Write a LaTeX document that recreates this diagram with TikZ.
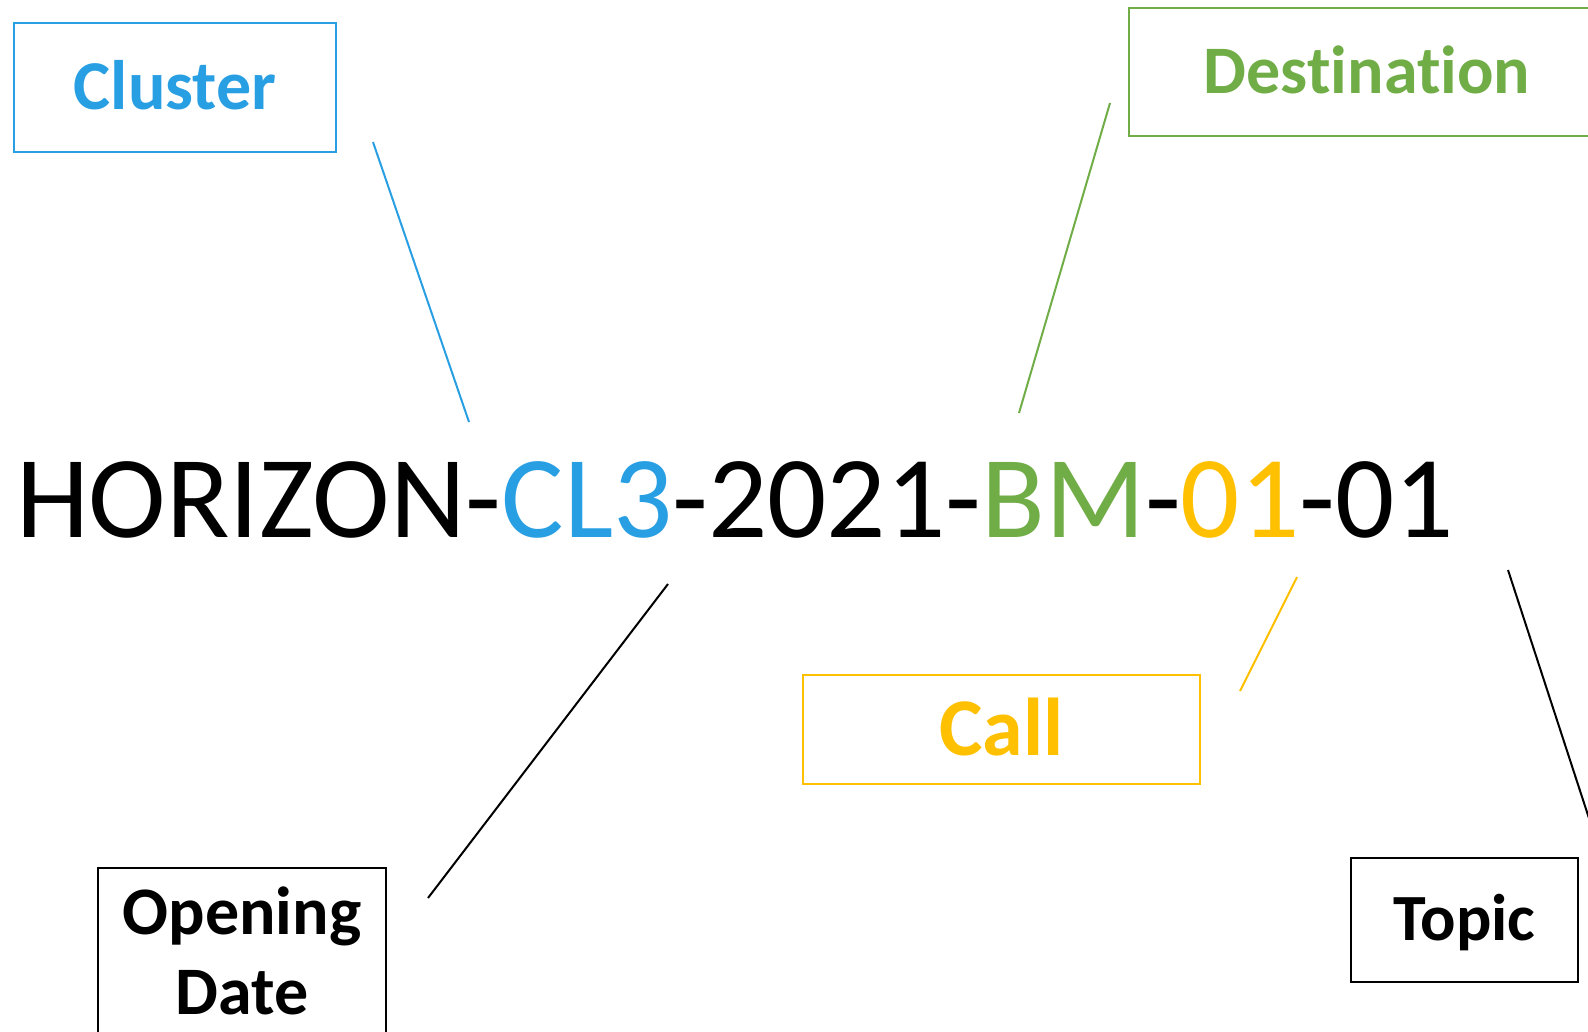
\documentclass[tikz,border=0pt]{standalone}
\usepackage{fontspec}
\setmainfont{Carlito}[Ligatures={NoCommon,NoRare}]
\usepackage{tikz}

\definecolor{clblue}{RGB}{41,159,227}
\definecolor{dgreen}{RGB}{112,173,71}
\definecolor{cgold}{RGB}{255,192,0}

\begin{document}
\begin{tikzpicture}[x=1pt, y=-1pt,
  part/.style={draw, line width=2.2pt, inner sep=0pt, text height=#1, text depth=0pt},
  link/.style={line width=2pt}]

\path[use as bounding box, clip] (0,0) rectangle (1588,1031);

\node (code) at (735,537) [anchor=base, inner sep=0pt, font=\fontsize{117}{140}\selectfont]
  {HORIZON-\textcolor{clblue}{CL3}-2021-\textcolor{dgreen}{BM}-\textcolor{cgold}{01}-01};

\node (cluster) at (175,87.5) [part=44pt, clblue, minimum width=322pt, minimum height=129pt,
  font=\fontsize{70}{84}\selectfont\bfseries] {Cluster};
\node (dest) at (1367,72) [part=43pt, dgreen, minimum width=476pt, minimum height=128pt,
  font=\fontsize{68}{82}\selectfont\bfseries] {Destination};
\node (call) at (1001.5,729.5) [part=52pt, cgold, minimum width=397pt, minimum height=109pt,
  font=\fontsize{82}{98}\selectfont\bfseries] {Call};
\node (opening) at (242,952.5) [part=123pt, align=center, minimum width=288pt, minimum height=169pt,
  font=\fontsize{68}{80}\selectfont\bfseries] {Opening\\ Date};
\node (topic) at (1464.5,920) [part=41pt, minimum width=227pt, minimum height=124pt,
  font=\fontsize{66}{78}\selectfont\bfseries] {Topic};

% line ends
\coordinate (cl-a) at (373,142);
\coordinate (cl-b) at (469,422);
\coordinate (de-a) at (1110,103);
\coordinate (de-b) at (1019,413);
\coordinate (op-a) at (668,584);
\coordinate (op-b) at (428,898);
\coordinate (ca-a) at (1297,577);
\coordinate (ca-b) at (1240,691);
\coordinate (to-a) at (1508,570);
\coordinate (to-b) at (1600,852);

\draw[link, clblue] (cl-a) -- (cl-b);
\draw[link, dgreen] (de-a) -- (de-b);
\draw[link] (op-a) -- (op-b);
\draw[link, cgold] (ca-a) -- (ca-b);
\draw[link] (to-a) -- (to-b);

\end{tikzpicture}
\end{document}
